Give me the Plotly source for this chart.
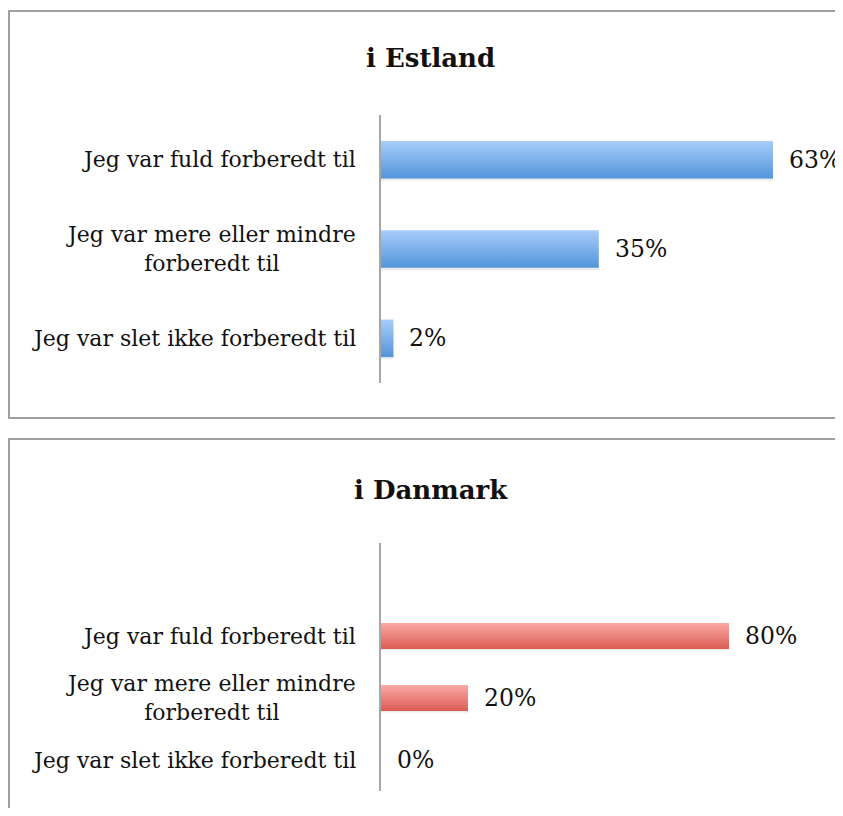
import plotly.graph_objects as go

# categories, top to bottom
categories = [
    "Jeg var fuld forberedt til",
    "Jeg var mere eller mindre<br>forberedt til",
    "Jeg var slet ikke forberedt til",
]
estland_pct = [63, 35, 2]
danmark_pct = [80, 20, 0]
titles = ["i Estland", "i Danmark"]

FONT = "DejaVu Serif"
OFF = 8  # page body margin
W, H = 843 - OFF, 816 - 2 * OFF


def px_x(p):
    return (p - OFF) / W


def px_y(p):
    return 1 - (p - OFF) / H


def bar_poly(value, i, half):
    xs = [0, value, value, 0, 0]
    ys = [i - half, i - half, i + half, i + half, i - half]
    return xs, ys


def add_panel(fig, values, ax, top_col, bot_col, half):
    xref = "x" if ax == 1 else "x%d" % ax
    yref = "y" if ax == 1 else "y%d" % ax
    for i, v in enumerate(values):
        if v <= 0:
            continue
        xs, ys = bar_poly(v, i, half)
        # soft shadow below the bar
        sx, sy = bar_poly(v, i + 0.025, half)
        fig.add_trace(go.Scatter(x=sx, y=sy, fill="toself", mode="lines",
                                 line=dict(width=0), fillcolor="rgba(0,0,0,0.08)",
                                 hoverinfo="skip", showlegend=False,
                                 xaxis=xref, yaxis=yref))
        fig.add_trace(go.Scatter(
            x=xs, y=ys, fill="toself", mode="lines", line=dict(width=0),
            fillgradient=dict(type="vertical",
                              colorscale=[[0, bot_col], [1, top_col]]),
            hoverinfo="skip", showlegend=False, xaxis=xref, yaxis=yref))
    for i, (cat, v) in enumerate(zip(categories, values)):
        fig.add_annotation(x=v, y=i, xref=xref, yref=yref, text="%d%%" % v,
                           showarrow=False, xanchor="left", yanchor="middle", xshift=14,
                           font=dict(family=FONT, size=23.5, color="#111"))
        fig.add_annotation(x=px_x(358), y=i, xref="paper", yref=yref, text=cat,
                           showarrow=False, xanchor="right", yanchor="middle", align="center",
                           font=dict(family=FONT, size=22, color="#111"))


fig = go.Figure()
add_panel(fig, estland_pct, 1, "#A8CDFB", "#5294DA", 0.21)
add_panel(fig, danmark_pct, 2, "#FBAAA6", "#DC5B53", 0.21)

axis_common = dict(showgrid=False, zeroline=False, showticklabels=False, ticks="")
fig.update_layout(
    width=W, height=H,
    margin=dict(l=0, r=0, t=0, b=0),
    paper_bgcolor="white", plot_bgcolor="white",
    xaxis=dict(domain=[px_x(381), 1], range=[0, 462 / 6.222], **axis_common),
    yaxis=dict(domain=[px_y(383), px_y(115)], range=[2.5, -0.5],
               showline=True, linecolor="#A6A6A6", linewidth=2, **axis_common),
    xaxis2=dict(domain=[px_x(381), 1], range=[0, 462 / 4.35], anchor="y2", **axis_common),
    yaxis2=dict(domain=[px_y(791), px_y(543)], range=[2.5, -1.5], anchor="x2",
                showline=True, linecolor="#A6A6A6", linewidth=2, **axis_common),
)

# panel frames
for y0, y1 in [(418, 11), (830, 439)]:
    fig.add_shape(type="rect", xref="paper", yref="paper",
                  x0=px_x(9), x1=px_x(860), y0=px_y(y0), y1=px_y(y1),
                  line=dict(color="#A0A0A0", width=2), layer="below")

for t, yc in zip(titles, [58, 490]):
    fig.add_annotation(x=px_x(431), y=px_y(yc), xref="paper", yref="paper",
                       text="<b>%s</b>" % t, showarrow=False, yanchor="middle",
                       font=dict(family=FONT, size=26, color="#111"))

fig.write_html("out.html")
